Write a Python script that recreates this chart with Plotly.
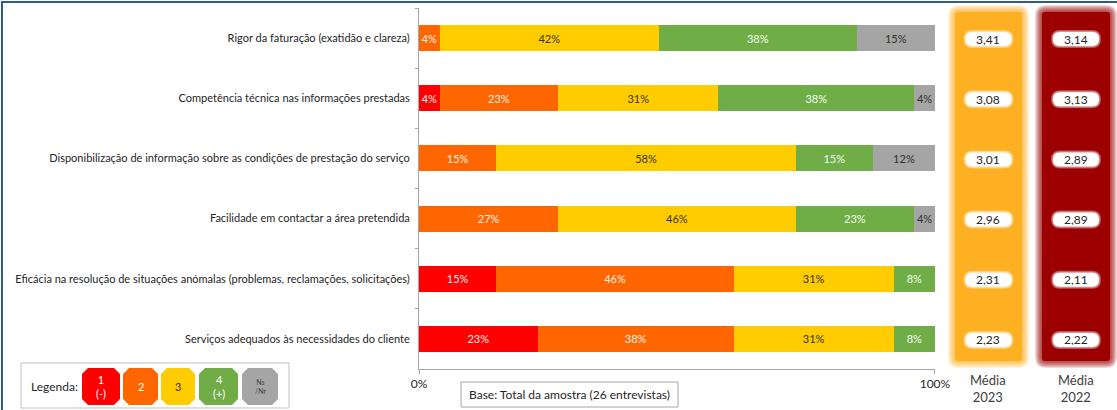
import plotly.graph_objects as go

W, H = 1117, 410

categories = [
    "Rigor da faturação (exatidão e clareza)",
    "Competência técnica nas informações prestadas",
    "Disponibilização de informação sobre as condições de prestação do serviço",
    "Facilidade em contactar a área pretendida",
    "Eficácia na resolução de situações anómalas (problemas, reclamações, solicitações)",
    "Serviços adequados às necessidades do cliente",
]
score_1 = [0, 4, 0, 0, 15, 23]
score_2 = [4, 23, 15, 27, 46, 38]
score_3 = [42, 31, 58, 46, 31, 31]
score_4 = [38, 38, 15, 23, 8, 8]
ns_nr = [15, 4, 12, 4, 0, 0]
media_2023 = ["3,41", "3,08", "3,01", "2,96", "2,31", "2,23"]
media_2022 = ["3,14", "3,13", "2,89", "2,89", "2,11", "2,22"]
legend_labels = ["1<br>(-)", "2", "3", "4<br>(+)", "Ns<br>/Nr"]
x_ticks = [0, 100]
x_tick_labels = ["0%", "100%"]

FONT = "Lato"
RED, ORANGE, YELLOW, GREEN, GREY = "#FF0000", "#FF6600", "#FFCC00", "#70AD47", "#A5A5A5"
series = [
    ("1", score_1, RED, "#FFF2EE"),
    ("2", score_2, ORANGE, "#FFF2EE"),
    ("3", score_3, YELLOW, "#3A3000"),
    ("4", score_4, GREEN, "#F2FFF0"),
    ("Ns/Nr", ns_nr, GREY, "#303030"),
]


def px(x):
    return x / W


def py(y):
    return 1 - y / H


# plot area in pixels
X0, X1 = 419, 935
Y0, Y1 = 8, 369

fig = go.Figure()
for name, vals, color, tcolor in series:
    fig.add_trace(go.Bar(
        y=categories, x=vals, name=name, orientation="h",
        marker=dict(color=color, line=dict(width=0)),
        text=[f"{v}%" if v else "" for v in vals],
        textposition="inside", insidetextanchor="middle", textangle=0,
        textfont=dict(family=FONT, size=11, color=tcolor),
        hoverinfo="skip",
    ))

shapes = []
annotations = []

# outer frame (top and left edges visible)
shapes.append(dict(type="rect", xref="paper", yref="paper",
                   x0=px(2), x1=px(W + 20), y0=py(H + 20), y1=py(2),
                   line=dict(color="#2E5A8E", width=2), layer="below"))


def rounded_path(x0, y0, x1, y1, r):
    return (f"M {px(x0 + r)},{py(y0)} L {px(x1 - r)},{py(y0)} "
            f"Q {px(x1)},{py(y0)} {px(x1)},{py(y0 + r)} "
            f"L {px(x1)},{py(y1 - r)} Q {px(x1)},{py(y1)} {px(x1 - r)},{py(y1)} "
            f"L {px(x0 + r)},{py(y1)} Q {px(x0)},{py(y1)} {px(x0)},{py(y1 - r)} "
            f"L {px(x0)},{py(y0 + r)} Q {px(x0)},{py(y0)} {px(x0 + r)},{py(y0)} Z")


def chamfer_path(x0, y0, x1, y1, c):
    return (f"M {px(x0 + c)},{py(y0)} L {px(x1 - c)},{py(y0)} L {px(x1)},{py(y0 + c)} "
            f"L {px(x1)},{py(y1 - c)} L {px(x1 - c)},{py(y1)} L {px(x0 + c)},{py(y1)} "
            f"L {px(x0)},{py(y1 - c)} L {px(x0)},{py(y0 + c)} Z")


# soft-edged mean panels
panels = [(955, 1022, "#FDB022", media_2023, "Média<br>2023"),
          (1042, 1110, "#9C0000", media_2022, "Média<br>2022")]
top, bot = 12, 361
for xa, xb, col, vals, label in panels:
    for k in range(7, 0, -1):
        shapes.append(dict(type="path", xref="paper", yref="paper",
                           path=rounded_path(xa - k, top - k, xb + k, bot + k, 4 + k),
                           fillcolor=col, opacity=0.15, line=dict(width=0), layer="below"))
    shapes.append(dict(type="path", xref="paper", yref="paper",
                       path=rounded_path(xa, top, xb, bot, 3),
                       fillcolor=col, line=dict(width=0), layer="below"))
    cx = (xa + xb) / 2
    band = (Y1 - Y0) / len(categories)
    for i, v in enumerate(vals):
        cy = Y0 + band * (i + 0.5) + 1
        for k in (2, 1):
            shapes.append(dict(type="path", xref="paper", yref="paper",
                               path=rounded_path(cx - 23 - k, cy - 7 - k, cx + 23 + k, cy + 7 + k, 7 + k),
                               fillcolor="white", opacity=0.35, line=dict(width=0), layer="below"))
        shapes.append(dict(type="path", xref="paper", yref="paper",
                           path=rounded_path(cx - 23, cy - 7, cx + 23, cy + 7, 7),
                           fillcolor="white", line=dict(width=0), layer="below"))
        annotations.append(dict(xref="paper", yref="y", x=px(cx), y=categories[i],
                                text=v, showarrow=False, xanchor="center", yanchor="middle",
                                yshift=-1, font=dict(family=FONT, size=12, color="#262626")))
    annotations.append(dict(xref="paper", yref="paper", x=px(cx), y=py(388),
                            text=label, showarrow=False, xanchor="center", yanchor="middle",
                            font=dict(family=FONT, size=13, color="#404040")))

# base note box
shapes.append(dict(type="rect", xref="paper", yref="paper",
                   x0=px(461), x1=px(678), y0=py(407), y1=py(382),
                   line=dict(color="#A6A6A6", width=1), fillcolor="white"))
annotations.append(dict(xref="paper", yref="paper", x=px(569.5), y=py(394.5),
                        text="Base: Total da amostra (26 entrevistas)", showarrow=False,
                        xanchor="center", yanchor="middle",
                        font=dict(family=FONT, size=12, color="#262626")))

# custom legend
shapes.append(dict(type="rect", xref="paper", yref="paper",
                   x0=px(21), x1=px(289), y0=py(408), y1=py(363),
                   line=dict(color="#BFBFBF", width=1), fillcolor="white"))
annotations.append(dict(xref="paper", yref="paper", x=px(29), y=py(386),
                        text="Legenda:", showarrow=False, xanchor="left", yanchor="middle",
                        font=dict(family=FONT, size=12, color="#262626")))
legend_boxes = [(82, 120), (123, 158), (161, 195), (199, 238), (242, 278)]
legend_text_colors = ["white", "white", "#3A3000", "white", "#404040"]
legend_sizes = [11, 11, 11, 11, 7]
for (xa, xb), (_, _, col, _), lab, tc, fs in zip(legend_boxes, series, legend_labels,
                                                  legend_text_colors, legend_sizes):
    shapes.append(dict(type="path", xref="paper", yref="paper",
                       path=chamfer_path(xa, 368, xb, 405, 6),
                       fillcolor=col, line=dict(width=0)))
    annotations.append(dict(xref="paper", yref="paper", x=px((xa + xb) / 2), y=py(386.5),
                            text=lab, showarrow=False, xanchor="center", yanchor="middle",
                            font=dict(family=FONT, size=fs, color=tc)))

fig.update_layout(
    width=W, height=H, autosize=False,
    margin=dict(l=0, r=0, t=0, b=0, pad=0),
    paper_bgcolor="white", plot_bgcolor="white",
    barmode="stack", barnorm="percent", bargap=0.57,
    showlegend=False,
    uniformtext=dict(minsize=11, mode="show"),
    shapes=shapes, annotations=annotations,
    font=dict(family=FONT, color="#262626"),
)
fig.update_xaxes(
    domain=[px(X0), px(X1)], range=[0, 100.01], fixedrange=True, automargin=False,
    tickvals=x_ticks, ticktext=x_tick_labels,
    ticks="outside", ticklen=4, tickcolor="#A6A6A6",
    showline=True, linecolor="#A6A6A6", linewidth=1,
    showgrid=False, zeroline=False,
    tickfont=dict(family=FONT, size=12, color="#262626"),
)
fig.update_yaxes(
    domain=[py(Y1), py(Y0)], autorange="reversed", fixedrange=True, automargin=False,
    type="category", categoryorder="array", categoryarray=categories,
    tickson="boundaries", ticks="outside", ticklen=3, tickcolor="#A6A6A6",
    showline=True, linecolor="#A6A6A6", linewidth=1, showgrid=False,
    ticklabelstandoff=6,
    tickfont=dict(family=FONT, size=11, color="#262626"),
)

fig.write_html("out.html")
